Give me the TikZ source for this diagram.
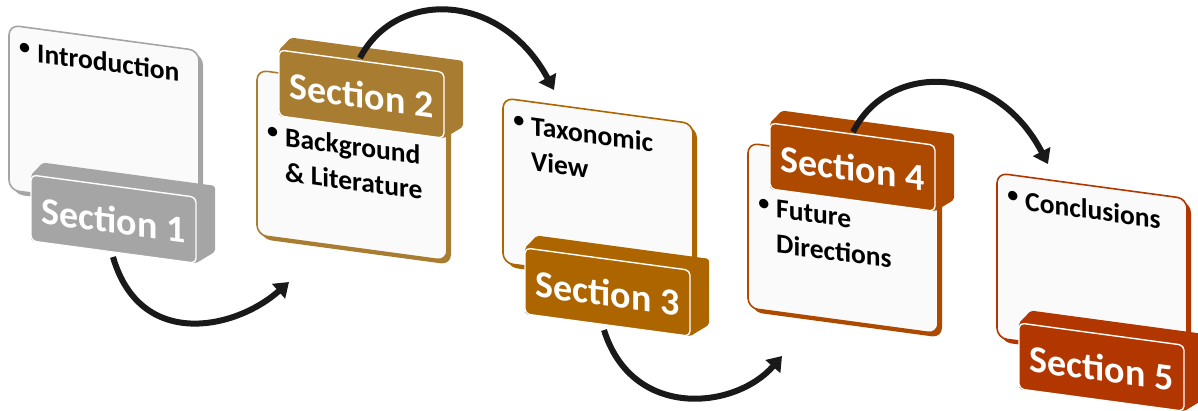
\documentclass[tikz,border=0pt]{standalone}
\usepackage{fontspec}
\setmainfont{Carlito}
\usetikzlibrary{arrows.meta}
\definecolor{c1}{HTML}{A5A5A5}
\definecolor{c2}{HTML}{A87D32}
\definecolor{c3}{HTML}{AD6500}
\definecolor{c4}{HTML}{AE4A00}
\definecolor{c5}{HTML}{B23600}
\definecolor{boxfill}{HTML}{FAFAFA}
\newcommand\bul{\llap{\raisebox{6pt}{\fontsize{22}{22}\selectfont\textbullet}\hspace{7pt}}}
\newcommand\mypanel[7]{%
\begin{scope}[shift={(#3,#4)},yslant=-0.135]
\fill[#2,rounded corners=10pt] (4,3.5) rectangle (194,168.5);
\filldraw[fill=boxfill,draw=#2,line width=1.6pt,rounded corners=10pt] (0,0) rectangle (190,165);
\node[bodytext] (t#1) at (28,#6) {#7};
\fill[#2,rounded corners=2pt] (22,#5+66) -- (22,#5) -- (34,#5-14) -- (206,#5-14) -- (206,#5+52) -- (187,#5+66) -- cycle;
\filldraw[fill=#2,draw=white,line width=1.4pt,rounded corners=5pt] (22,#5) rectangle (187,#5+66);
\node[sectext] (s#1) at (104.5,#5+34) {Section #1};
\end{scope}}
\begin{document}
\begin{tikzpicture}[x=1pt,y=-1pt,
  bodytext/.style={anchor=north west,inner sep=0pt,align=left,font=\bfseries\fontsize{27.5}{35}\selectfont,transform shape},
  sectext/.style={text=white,inner sep=0pt,font=\bfseries\fontsize{38}{38}\selectfont,transform shape},
  arr/.style={line width=6pt,black!90,-{Triangle[width=19pt,length=14pt]}}]
\useasboundingbox (0,0) rectangle (1198,410);
\mypanel{1}{c1}{9}{25}{147}{14}{\bul Introduction}
\mypanel{2}{c2}{257}{70}{-23}{53}{\bul Background\\\& Literature}
\mypanel{3}{c3}{503}{98}{147}{14}{\bul Taxonomic\\View}
\mypanel{4}{c4}{748}{143}{-23}{53}{\bul Future\\Directions}
\mypanel{5}{c5}{997}{173}{147}{14}{\bul Conclusions}
\coordinate (a1s) at (113,257); \coordinate (a1e) at (289,282);
\coordinate (a2s) at (360,58);  \coordinate (a2e) at (554,90);
\coordinate (a3s) at (604,330); \coordinate (a3e) at (782,356);
\coordinate (a4s) at (853,132); \coordinate (a4e) at (1048,164);
\draw[arr] (a1s) .. controls (140,350) and (235,330) .. (a1e);
\draw[arr] (a2s) .. controls (395,-10) and (500,-10) .. (a2e);
\draw[arr] (a3s) .. controls (632,420) and (735,410) .. (a3e);
\draw[arr] (a4s) .. controls (888,62) and (995,62) .. (a4e);
\end{tikzpicture}
\end{document}
